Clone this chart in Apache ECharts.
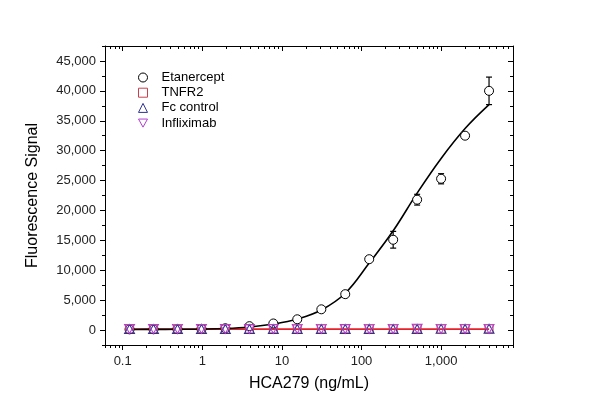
<!doctype html>
<html>
<head>
<meta charset="utf-8">
<title>HCA279 binding</title>
<script src="https://cdn.jsdelivr.net/npm/echarts@6/dist/echarts.min.js"></script>
<style>
  html, body { margin: 0; padding: 0; background: #fff; }
  #main { width: 600px; height: 418px; }
</style>
</head>
<body>
<div id="main"></div>
<script>
// concentrations (ng/mL), 2-fold serial dilution
var conc = [0.122, 0.244, 0.488, 0.977, 1.95, 3.91, 7.81, 15.6, 31.3, 62.5, 125, 250, 500, 1000, 2000, 4000];

var etanercept    = [120, 130, 150, 200, 300, 650, 1100, 1800, 3470, 6000, 11850, 15100, 21800, 25300, 32500, 40000];
var etanerceptErr = [150, 150, 150, 200, 200, 300, 400, 400, 400, 300, 400, 1400, 900, 850, 350, 2300];
var etanerceptFit = [100, 110, 130, 160, 250, 500, 1000, 1850, 3350, 6150, 11200, 16600, 22900, 28700, 33700, 37700];

var tnfr2      = [180, 170, 180, 190, 170, 180, 200, 180, 190, 200, 180, 190, 200, 190, 210, 200];
var tnfr2Fit   = [150, 150, 150, 150, 150, 150, 155, 155, 155, 155, 160, 160, 160, 160, 160, 160];
var fcControl  = [170, 180, 170, 180, 190, 170, 180, 190, 180, 170, 190, 180, 180, 200, 190, 220];
var infliximab = [190, 190, 200, 180, 180, 190, 190, 200, 200, 190, 200, 200, 210, 200, 200, 200];

// axis ticks
var xMajor = [0.1, 1, 10, 100, 1000];
var xMinor = [0.06, 0.07, 0.08, 0.09, 0.2, 0.3, 0.4, 0.5, 0.6, 0.7, 0.8, 0.9,
              2, 3, 4, 5, 6, 7, 8, 9, 20, 30, 40, 50, 60, 70, 80, 90,
              200, 300, 400, 500, 600, 700, 800, 900, 2000, 3000, 4000, 5000, 6000, 7000, 8000];
var yMajor = [0, 5000, 10000, 15000, 20000, 25000, 30000, 35000, 40000, 45000];
var yMinor = [-2500, 2500, 7500, 12500, 17500, 22500, 27500, 32500, 37500, 42500, 47500];

var X_MIN = 0.06, X_MAX = 8000, Y_MIN = -2500, Y_MAX = 47500;

function lg(v) { return Math.log10(v); }
function pairs(ys) { return conc.map(function (c, i) { return [lg(c), ys[i]]; }); }
function fmtX(v) {
  var n = Math.round(Math.pow(10, v) * 1000) / 1000;
  return n.toLocaleString('en-US');
}

var font = 'Liberation Sans, Arial, sans-serif';
var black = '#000';

function xAxisDef(pos, ticks, len, inside, withLine, withLabels) {
  return {
    type: 'value', position: pos, min: lg(X_MIN), max: lg(X_MAX),
    axisLine: { show: withLine, onZero: false, lineStyle: { color: black, width: 1 } },
    axisTick: { show: true, inside: inside, length: len, customValues: ticks.map(lg), lineStyle: { color: black } },
    axisLabel: withLabels ? {
      show: true, customValues: xMajor.map(lg), formatter: fmtX,
      color: '#222', fontFamily: font, fontSize: 13, margin: 10
    } : { show: false },
    splitLine: { show: false }
  };
}
function yAxisDef(pos, ticks, len, inside, withLine, withLabels) {
  return {
    type: 'value', position: pos, min: Y_MIN, max: Y_MAX,
    axisLine: { show: withLine, onZero: false, lineStyle: { color: black, width: 1 } },
    axisTick: { show: true, inside: inside, length: len, customValues: ticks, lineStyle: { color: black } },
    axisLabel: withLabels ? {
      show: true, customValues: yMajor,
      formatter: function (v) { return v.toLocaleString('en-US'); },
      color: '#222', fontFamily: font, fontSize: 13, margin: 9
    } : { show: false },
    splitLine: { show: false }
  };
}

var xAxes = [
  xAxisDef('bottom', xMajor, 5, false, true, true),
  xAxisDef('bottom', xMinor, 3, false, false, false),
  xAxisDef('top', xMajor, 5, true, true, false),
  xAxisDef('top', xMinor, 3, true, false, false)
];
xAxes[0].name = 'HCA279 (ng/mL)';
xAxes[0].nameLocation = 'middle';
xAxes[0].nameGap = 31;
xAxes[0].nameMoveOverlap = false;
xAxes[0].nameTextStyle = { fontFamily: font, fontSize: 16, color: black };

var yAxes = [
  yAxisDef('left', yMajor, 5, false, true, true),
  yAxisDef('left', yMinor, 3, false, false, false),
  yAxisDef('right', yMajor, 5, true, true, false),
  yAxisDef('right', yMinor, 3, true, false, false)
];
yAxes[0].name = 'Fluorescence Signal';
yAxes[0].nameLocation = 'middle';
yAxes[0].nameGap = 64;
yAxes[0].nameMoveOverlap = false;
yAxes[0].nameTextStyle = { fontFamily: font, fontSize: 16, color: black };

var errData = conc.map(function (c, i) {
  return [lg(c), etanercept[i] - etanerceptErr[i], etanercept[i] + etanerceptErr[i]];
});

var invTri = 'path://M0,0 L10,0 L5,9 Z';

var chart = echarts.init(document.getElementById('main'), null, { renderer: 'canvas' });
chart.setOption({
  animation: false,
  backgroundColor: '#fff',
  grid: { left: 105, right: 87, top: 46, bottom: 73 },
  xAxis: xAxes,
  yAxis: yAxes,
  legend: {
    orient: 'vertical', left: 133, top: 66,
    itemWidth: 9, itemHeight: 9, itemGap: 2.2,
    data: ['Etanercept', 'TNFR2', 'Fc control', 'Infliximab'],
    itemStyle: { borderWidth: 1 },
    textStyle: { fontFamily: font, fontSize: 13, color: black, padding: [0, 0, 0, 9] }
  },
  series: [
    {
      name: 'TNFR2 fit', type: 'line', data: pairs(tnfr2Fit), showSymbol: false, symbol: 'none',
      lineStyle: { color: '#e8202a', width: 1.8 }, z: 2, silent: true
    },
    {
      name: 'Etanercept fit', type: 'line', data: pairs(etanerceptFit), showSymbol: false, symbol: 'none',
      smooth: 0.4, lineStyle: { color: black, width: 1.6 }, z: 3, silent: true
    },
    {
      name: 'Etanercept err', type: 'custom', data: errData, z: 4, silent: true,
      renderItem: function (params, api) {
        var lo = api.coord([api.value(0), api.value(1)]);
        var hi = api.coord([api.value(0), api.value(2)]);
        var w = 3;
        var st = { stroke: black, lineWidth: 1.2 };
        return {
          type: 'group', children: [
            { type: 'line', shape: { x1: lo[0], y1: lo[1], x2: hi[0], y2: hi[1] }, style: st },
            { type: 'line', shape: { x1: lo[0] - w, y1: lo[1], x2: lo[0] + w, y2: lo[1] }, style: st },
            { type: 'line', shape: { x1: hi[0] - w, y1: hi[1], x2: hi[0] + w, y2: hi[1] }, style: st }
          ]
        };
      }
    },
    {
      name: 'Etanercept', type: 'scatter', data: pairs(etanercept), symbol: 'circle', symbolSize: 9, z: 5,
      itemStyle: { color: '#fff', borderColor: black, borderWidth: 1, opacity: 1 }
    },
    {
      name: 'TNFR2', type: 'scatter', data: pairs(tnfr2), symbol: 'rect', symbolSize: 8, z: 6,
      itemStyle: { color: 'rgba(0,0,0,0)', borderColor: '#c8404e', borderWidth: 1, opacity: 1 }
    },
    {
      name: 'Fc control', type: 'scatter', data: pairs(fcControl), symbol: 'triangle', symbolSize: [10, 9], z: 7,
      itemStyle: { color: 'rgba(0,0,0,0)', borderColor: '#2e3192', borderWidth: 1, opacity: 1 }
    },
    {
      name: 'Infliximab', type: 'scatter', data: pairs(infliximab), symbol: invTri, symbolSize: [10, 9], z: 8,
      itemStyle: { color: 'rgba(0,0,0,0)', borderColor: '#b43cd2', borderWidth: 1, opacity: 1 }
    }
  ]
});
</script>
</body>
</html>
